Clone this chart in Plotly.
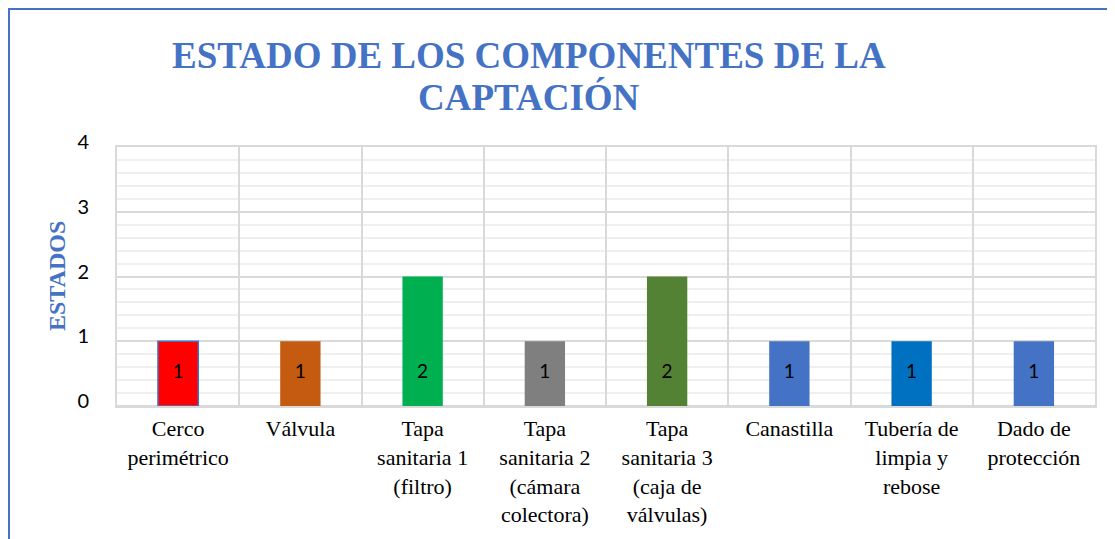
import plotly.graph_objects as go

categories = ["Cerco<br>perimétrico", "Válvula", "Tapa<br>sanitaria 1<br>(filtro)",
              "Tapa<br>sanitaria 2<br>(cámara<br>colectora)", "Tapa<br>sanitaria 3<br>(caja de<br>válvulas)",
              "Canastilla", "Tubería de<br>limpia y<br>rebose", "Dado de<br>protección"]
values = [1, 1, 2, 1, 2, 1, 1, 1]
colors = ["#FF0000", "#C55A11", "#00B050", "#7F7F7F", "#548235", "#4472C4", "#0070C0", "#4472C4"]
outline = ["#4472C4", "rgba(0,0,0,0)", "rgba(0,0,0,0)", "rgba(0,0,0,0)",
           "rgba(0,0,0,0)", "rgba(0,0,0,0)", "rgba(0,0,0,0)", "rgba(0,0,0,0)"]

# page body has an 8px margin, so the figure starts at (8, 8)
OFF = 8
W, H = 1115, 539
L, R, T, B = 117, 1095, 147, 406

def px(x):
    return (x - L) / (R - L)

def py(y):
    return (B - y) / (B - T)

BLUE = "#4472C4"
GRID = "#D9D9D9"

fig = go.Figure()
fig.add_trace(go.Bar(
    x=categories, y=values, width=0.33,
    marker=dict(color=colors, line=dict(color=outline, width=1.5)),
    hoverinfo="skip",
))
# value labels sit near the base of each bar
fig.add_trace(go.Scatter(
    x=categories, y=[0.5] * len(values), mode="text",
    text=[str(v) for v in values],
    textfont=dict(family="Lato", size=19, color="black"),
    hoverinfo="skip",
))

fig.update_layout(
    width=W - OFF, height=H - OFF,
    margin=dict(l=L - OFF, r=W - R, t=T - OFF, b=H - B, pad=0),
    plot_bgcolor="white", paper_bgcolor="white",
    showlegend=False,
    xaxis=dict(
        type="category", tickson="boundaries", showgrid=True,
        gridcolor=GRID, gridwidth=2,
        showline=True, linecolor=GRID, linewidth=2, mirror=True,
        ticks="", ticklabelstandoff=2,
        tickfont=dict(family="Liberation Serif", size=22, color="black"),
    ),
    yaxis=dict(
        range=[0, 4], dtick=1, showgrid=True, gridcolor=GRID, gridwidth=2,
        zeroline=True, zerolinecolor=GRID, zerolinewidth=2,
        showline=True, linecolor=GRID, linewidth=2, mirror=True,
        ticks="", ticklabelstandoff=22, ticklabelshift=-5,
        tickfont=dict(family="Lato", size=20, color="black"),
        minor=dict(dtick=0.2, showgrid=True, gridcolor="#EFEFEF", gridwidth=2),
    ),
    shapes=[dict(type="rect", xref="paper", yref="paper",
                 x0=px(9), x1=px(1125), y0=py(9), y1=py(560),
                 line=dict(color=BLUE, width=2), fillcolor="rgba(0,0,0,0)", layer="below")],
    annotations=[
        dict(text="<b>ESTADO DE LOS COMPONENTES DE LA</b>", xref="paper", yref="paper",
             x=px(529), y=py(55), xanchor="center", yanchor="middle", showarrow=False,
             font=dict(family="Liberation Serif", size=37, color=BLUE)),
        dict(text="<b>CAPTACIÓN</b>", xref="paper", yref="paper",
             x=px(529), y=py(98), xanchor="center", yanchor="middle", showarrow=False,
             font=dict(family="Liberation Serif", size=37, color=BLUE)),
        dict(text="<b>ESTADOS</b>", xref="paper", yref="paper", textangle=-90,
             x=px(57), y=py(276), xanchor="center", yanchor="middle", showarrow=False,
             font=dict(family="Liberation Serif", size=24, color=BLUE)),
    ],
)

fig.write_html("out.html")
